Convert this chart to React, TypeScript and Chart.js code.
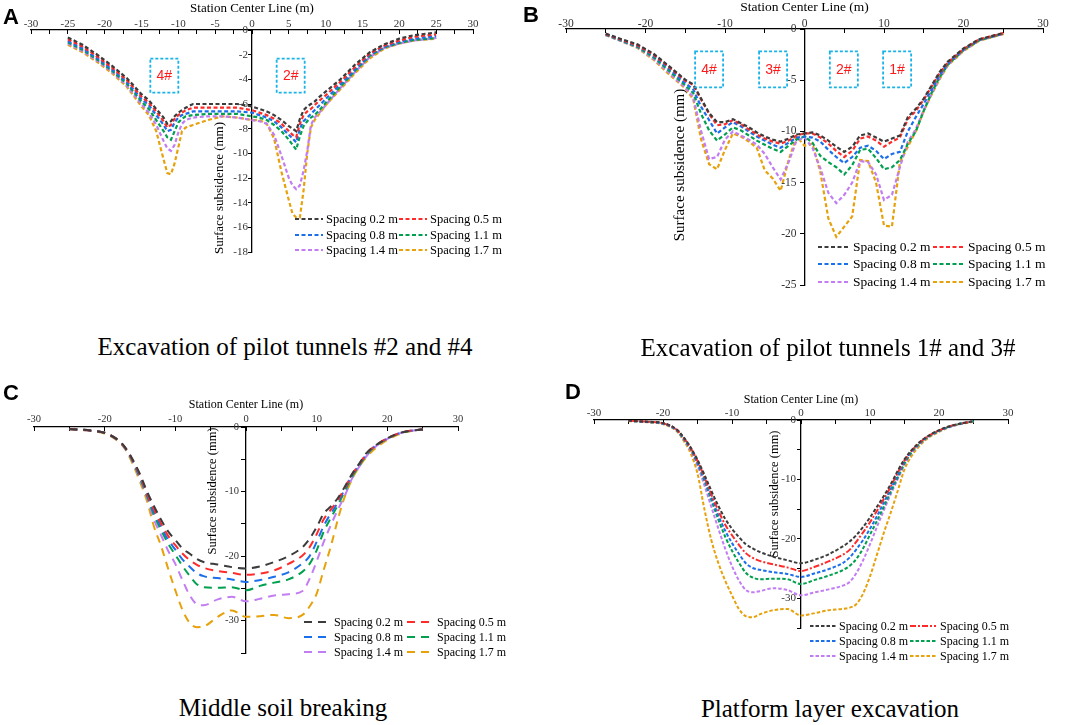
import React, { useEffect, useRef } from 'react';
import { Chart, registerables } from 'chart.js';

Chart.register(...registerables);

const SERIF = '"Liberation Serif", "Times New Roman", serif';
const SANS = '"Liberation Sans", Arial, sans-serif';

// ---------- series meta ----------
const seriesLabels = ['Spacing 0.2 m', 'Spacing 0.5 m', 'Spacing 0.8 m', 'Spacing 1.1 m', 'Spacing 1.4 m', 'Spacing 1.7 m'];
const seriesColors = ['#3c3c3c', '#ff2b2b', '#1b6fea', '#00a04f', '#c27df2', '#e6a10b'];

// ---------- Panel A: excavation of pilot tunnels #2 and #4 ----------
const xA = [-25, -23, -21, -19, -17, -15, -14, -13, -12, -11.5, -11, -10.5, -10, -9.5, -9, -8, -6, -4, -2, 0, 1, 2, 3, 4, 5, 5.5, 6, 6.5, 7, 7.5, 8, 8.5, 9, 10, 12, 14, 16, 18, 20, 22, 25];
const a02 = [-0.6, -1.2, -2.0, -2.9, -3.9, -5.2, -5.7, -6.4, -7.1, -7.6, -7.4, -7.0, -6.7, -6.5, -6.3, -6.0, -6.0, -6.0, -6.0, -6.2, -6.4, -6.6, -6.9, -7.3, -7.8, -8.0, -8.2, -7.2, -6.5, -6.2, -6.0, -5.8, -5.5, -5.0, -4.0, -2.8, -1.8, -1.15, -0.7, -0.42, -0.2];
const a05 = [-0.75, -1.35, -2.15, -3.05, -4.05, -5.4, -5.9, -6.6, -7.4, -7.9, -7.7, -7.2, -6.9, -6.7, -6.5, -6.3, -6.3, -6.3, -6.3, -6.5, -6.7, -6.9, -7.2, -7.6, -8.2, -8.5, -8.7, -7.6, -6.9, -6.6, -6.4, -6.1, -5.8, -5.3, -4.2, -3.0, -1.9, -1.25, -0.85, -0.55, -0.35];
const a08 = [-0.9, -1.5, -2.3, -3.2, -4.2, -5.6, -6.1, -6.9, -7.7, -8.2, -8.1, -7.5, -7.1, -6.9, -6.8, -6.6, -6.6, -6.6, -6.6, -6.7, -6.9, -7.1, -7.4, -7.9, -8.5, -8.8, -9.1, -8.0, -7.4, -7.1, -6.8, -6.5, -6.2, -5.6, -4.4, -3.2, -2.0, -1.35, -0.95, -0.7, -0.5];
const a11 = [-1.0, -1.6, -2.4, -3.3, -4.35, -5.8, -6.4, -7.3, -8.2, -8.7, -8.9, -8.2, -7.5, -7.2, -7.0, -6.9, -6.8, -6.8, -6.8, -7.0, -7.1, -7.3, -7.7, -8.2, -8.9, -9.3, -9.7, -8.6, -7.8, -7.4, -7.1, -6.9, -6.6, -5.9, -4.6, -3.3, -2.1, -1.4, -1.05, -0.8, -0.65];
const a14 = [-1.1, -1.7, -2.5, -3.4, -4.5, -6.0, -6.7, -7.7, -9.0, -9.6, -9.8, -9.3, -8.3, -7.6, -7.3, -7.1, -7.0, -7.0, -7.1, -7.3, -7.4, -7.6, -8.5, -10.2, -12.0, -12.6, -12.9, -12.6, -11.4, -9.8, -7.7, -7.1, -6.8, -6.1, -4.7, -3.4, -2.2, -1.45, -1.1, -0.85, -0.65];
const a17 = [-1.2, -1.8, -2.6, -3.5, -4.6, -6.2, -6.9, -8.2, -10.5, -11.6, -11.7, -10.8, -9.5, -8.2, -7.9, -7.7, -7.3, -7.0, -7.1, -7.3, -7.3, -7.6, -8.8, -11.5, -13.8, -14.9, -15.2, -15.2, -13.0, -10.0, -7.9, -7.3, -6.9, -6.1, -4.8, -3.5, -2.3, -1.5, -1.1, -0.85, -0.7];
const tunnelLabelsA = ['4#', '2#'];
const tunnelXA = [-11.9, 5.25];
const tunnelYA = -3.7;

// ---------- Panel B: excavation of pilot tunnels 1# and 3# ----------
const xB = [-25, -23, -21, -19, -17, -15, -14, -13, -12, -11, -10, -9, -8, -7, -6, -5, -4, -3, -2, -1, 0, 1, 2, 3, 4, 5, 6, 7, 8, 9, 10, 11, 12, 13, 14, 15, 16, 17, 18, 20, 22, 25];
const b02 = [-0.45, -1.0, -1.5, -2.4, -3.65, -4.95, -5.4, -6.8, -8.2, -9.1, -9.1, -8.8, -9.2, -9.6, -10.1, -10.5, -10.8, -11.0, -10.7, -10.3, -10.2, -10.1, -10.4, -10.9, -11.5, -12.0, -11.5, -10.4, -10.2, -10.6, -11.0, -10.7, -10.4, -8.6, -7.8, -6.8, -5.5, -4.2, -3.2, -1.9, -1.0, -0.4];
const b05 = [-0.5, -1.05, -1.6, -2.5, -3.75, -5.05, -5.45, -6.9, -8.3, -9.4, -9.3, -8.9, -9.3, -9.8, -10.3, -10.7, -11.0, -11.2, -10.9, -10.4, -10.2, -10.2, -10.6, -11.2, -11.9, -12.5, -11.9, -10.7, -10.5, -10.9, -11.5, -11.0, -10.6, -8.8, -8.0, -6.9, -5.6, -4.3, -3.3, -1.95, -1.0, -0.4];
const b08 = [-0.5, -1.1, -1.65, -2.6, -3.9, -5.3, -5.9, -7.6, -8.9, -10.2, -9.6, -9.1, -9.5, -10.0, -10.5, -10.9, -11.3, -11.6, -11.1, -10.6, -10.5, -10.6, -11.0, -11.8, -12.5, -13.1, -12.5, -11.6, -11.4, -11.9, -12.7, -12.2, -12.0, -10.0, -8.6, -7.3, -5.9, -4.5, -3.4, -2.0, -1.05, -0.45];
const b11 = [-0.55, -1.15, -1.75, -2.75, -4.1, -5.5, -6.25, -8.3, -9.9, -10.9, -10.3, -9.6, -9.9, -10.4, -10.9, -11.3, -11.7, -12.0, -11.4, -10.8, -10.5, -11.1, -12.4, -13.0, -13.5, -14.2, -13.3, -11.8, -11.7, -12.6, -13.7, -13.5, -12.8, -11.2, -10.0, -8.0, -6.2, -4.7, -3.5, -2.05, -1.1, -0.45];
const b14 = [-0.6, -1.2, -1.8, -2.9, -4.3, -5.7, -6.65, -10.0, -12.7, -12.5, -10.8, -10.0, -10.4, -10.8, -11.3, -12.2, -13.5, -14.7, -13.0, -10.9, -10.6, -11.6, -13.6, -16.0, -17.0, -16.2, -15.0, -12.9, -13.0, -14.2, -16.7, -16.2, -13.5, -11.0, -9.8, -7.9, -6.3, -4.8, -3.5, -2.1, -1.1, -0.5];
const b17 = [-0.6, -1.2, -1.85, -3.0, -4.45, -5.8, -6.85, -10.8, -13.2, -13.7, -11.8, -10.2, -10.5, -11.0, -11.6, -13.8, -14.6, -15.8, -12.8, -10.5, -11.4, -11.2, -14.0, -18.5, -20.3, -19.3, -18.3, -12.8, -12.9, -15.0, -19.2, -19.3, -13.0, -11.5, -10.0, -8.0, -6.4, -4.9, -3.6, -2.15, -1.15, -0.5];
const tunnelLabelsB = ['4#', '3#', '2#', '1#'];
const tunnelXB = [-12.0, -3.95, 4.95, 11.65];
const tunnelYB = -3.95;

// ---------- Panel C: middle soil breaking ----------
const xC = [-25, -22, -20, -18, -17, -16, -15, -14, -13, -12, -11, -10, -9, -8, -7, -6, -4, -2, 0, 2, 4, 6, 8, 9, 10, 11, 12, 13, 14, 15, 16, 17, 18, 20, 22, 25];
const c02 = [-0.3, -0.55, -0.9, -2.1, -3.3, -5.1, -7.3, -10.0, -12.3, -14.4, -16.2, -17.5, -18.8, -19.6, -20.4, -20.9, -21.3, -21.7, -21.9, -21.6, -20.9, -20.0, -18.6, -17.3, -15.5, -13.4, -12.3, -11.0, -9.2, -7.3, -5.7, -4.1, -3.1, -1.75, -0.85, -0.35];
const c05 = [-0.3, -0.55, -0.9, -2.1, -3.35, -5.2, -7.5, -10.3, -12.8, -15.0, -16.9, -18.3, -19.6, -20.6, -21.3, -21.8, -22.3, -22.6, -22.9, -22.7, -22.2, -21.2, -19.9, -18.6, -16.6, -14.3, -12.8, -11.3, -9.4, -7.4, -5.8, -4.2, -3.15, -1.75, -0.85, -0.35];
const c08 = [-0.3, -0.55, -0.9, -2.15, -3.4, -5.3, -7.7, -10.5, -13.2, -15.5, -17.5, -19.0, -20.5, -21.6, -22.6, -23.1, -23.4, -23.6, -24.0, -23.7, -23.2, -22.5, -21.1, -20.0, -17.8, -15.3, -13.4, -11.7, -9.6, -7.5, -5.9, -4.3, -3.2, -1.8, -0.85, -0.35];
const c11 = [-0.3, -0.55, -0.9, -2.15, -3.45, -5.4, -7.9, -10.7, -13.7, -16.0, -18.1, -19.8, -21.5, -23.0, -24.3, -24.8, -24.9, -24.8, -25.3, -24.6, -24.1, -23.6, -22.4, -21.2, -19.1, -16.2, -14.1, -12.1, -9.9, -7.7, -6.0, -4.4, -3.25, -1.8, -0.9, -0.35];
const c14 = [-0.3, -0.6, -0.95, -2.2, -3.5, -5.5, -8.1, -10.9, -14.4, -16.8, -19.2, -21.2, -23.7, -26.0, -27.4, -27.6, -26.7, -26.3, -27.0, -26.6, -26.1, -25.9, -25.4, -23.5, -20.8, -17.8, -15.2, -12.8, -10.6, -8.0, -6.2, -4.6, -3.35, -1.85, -0.9, -0.35];
const c17 = [-0.35, -0.6, -1.0, -2.3, -3.6, -5.8, -8.5, -11.5, -15.5, -18.5, -22.0, -25.3, -28.3, -30.3, -31.0, -30.9, -29.4, -28.4, -29.4, -29.3, -29.1, -29.6, -29.1, -27.8, -25.8, -22.1, -18.5, -14.3, -10.7, -8.1, -6.2, -4.7, -3.6, -2.0, -1.0, -0.35];

// ---------- Panel D: platform layer excavation ----------
const xD = [-25, -22, -20, -18, -17, -16, -15, -14, -13, -12, -11, -10, -9, -8, -7, -6, -4, -2, 0, 2, 4, 6, 7, 8, 9, 10, 11, 12, 13, 14, 15, 16, 17, 18, 20, 22, 25];
const d02 = [-0.1, -0.3, -0.5, -1.6, -2.9, -4.6, -6.7, -9.2, -11.9, -14.4, -16.6, -18.3, -19.7, -20.9, -21.6, -22.2, -23.0, -23.6, -24.1, -23.5, -22.6, -21.3, -20.5, -19.4, -18.0, -16.4, -14.6, -12.8, -10.8, -8.6, -6.6, -5.1, -3.9, -3.0, -1.7, -0.9, -0.2];
const d05 = [-0.1, -0.3, -0.55, -1.65, -3.0, -4.7, -6.9, -9.6, -12.5, -15.2, -17.6, -19.4, -21.0, -22.4, -23.2, -23.7, -24.3, -24.8, -25.4, -24.7, -23.8, -22.7, -21.9, -20.5, -18.9, -17.2, -15.3, -13.3, -11.2, -8.9, -6.8, -5.2, -4.0, -3.05, -1.75, -0.9, -0.2];
const d08 = [-0.15, -0.35, -0.6, -1.7, -3.1, -4.8, -7.1, -9.9, -13.0, -16.0, -18.6, -20.7, -22.5, -24.1, -24.9, -25.2, -25.6, -25.9, -26.4, -25.8, -25.1, -24.1, -23.2, -21.8, -20.2, -18.3, -16.2, -13.9, -11.6, -9.3, -7.0, -5.3, -4.1, -3.1, -1.8, -0.95, -0.2];
const d11 = [-0.15, -0.35, -0.6, -1.75, -3.2, -4.9, -7.3, -10.2, -13.5, -16.7, -19.6, -22.0, -24.0, -25.7, -26.5, -26.8, -26.7, -26.8, -27.6, -26.9, -26.2, -25.3, -24.6, -23.4, -21.6, -19.3, -17.0, -14.6, -12.1, -9.7, -7.3, -5.5, -4.2, -3.2, -1.85, -0.95, -0.2];
const d14 = [-0.15, -0.35, -0.6, -1.8, -3.3, -5.1, -7.7, -11.0, -14.6, -18.2, -21.6, -24.6, -27.0, -28.6, -29.0, -28.8, -28.3, -28.6, -29.5, -29.0, -28.5, -27.9, -27.3, -25.8, -23.6, -20.9, -18.0, -15.2, -12.5, -10.0, -7.5, -5.6, -4.3, -3.25, -1.9, -1.0, -0.2];
const d17 = [-0.2, -0.4, -0.7, -1.9, -3.5, -5.6, -9.0, -15.0, -20.2, -24.0, -27.0, -29.5, -31.8, -33.0, -33.2, -32.7, -32.0, -31.8, -32.9, -32.5, -32.0, -31.8, -31.6, -31.0, -29.2, -26.3, -22.7, -19.0, -15.6, -12.0, -8.3, -6.1, -4.6, -3.4, -2.0, -1.0, -0.3];

// ---------- layout / style (not data) ----------
interface Rect { left: number; top: number; width: number; height: number }
interface Panel {
  id: string;
  canvas: Rect;
  area: { left: number; right: number; top: number; bottom: number };
  xs: number[];
  ys: number[][];
  yMin: number;
  yStep: number;
  yLabelEvery: number;
  xStep: number;
  xLabelEvery: number;
  dash: number[][];
  lineWidth: number;
  smooth: boolean;
  tickSize: number;
  xTitleSize: number;
  xTitleY: number;
  xTickOffset: number;
  yTickLen: number;
  yTickPad: number;
  yTitle: { x: number; y: number; size: number };
  legend: { lineX: number[]; lineLen: number; textX: number[]; rows: number[]; size: number };
  boxes?: { labels: string[]; xs: number[]; y: number; w: number; h: number };
}

const dashShort = [4, 2.5];
const dashLong = [8, 6];
const dashD = [3.5, 2];
const dashDot = [6, 2, 2, 2];

const panels: Panel[] = [
  {
    id: 'A',
    canvas: { left: 0, top: 0, width: 530, height: 300 },
    area: { left: 31, right: 473, top: 30, bottom: 252 },
    xs: xA, ys: [a02, a05, a08, a11, a14, a17],
    yMin: -18, yStep: 2, yLabelEvery: 2, xStep: 2.5, xLabelEvery: 5,
    dash: [dashShort, dashShort, dashShort, dashShort, dashShort, dashShort],
    lineWidth: 2.2, smooth: false,
    tickSize: 11, xTitleSize: 13, xTitleY: 9, xTickOffset: 6, yTickLen: 3, yTickPad: 1,
    yTitle: { x: 220, y: 188, size: 13 },
    legend: { lineX: [295, 399], lineLen: 28, textX: [326, 430], rows: [219, 235, 250], size: 12.5 },
    boxes: { labels: tunnelLabelsA, xs: tunnelXA, y: tunnelYA, w: 28, h: 34 },
  },
  {
    id: 'B',
    canvas: { left: 530, top: 0, width: 535, height: 310 },
    area: { left: 566, right: 1043, top: 29, bottom: 285 },
    xs: xB, ys: [b02, b05, b08, b11, b14, b17],
    yMin: -25, yStep: 5, yLabelEvery: 5, xStep: 5, xLabelEvery: 10,
    dash: [dashShort, dashShort, dashShort, dashShort, dashShort, dashShort],
    lineWidth: 2.2, smooth: false,
    tickSize: 11.5, xTitleSize: 13.5, xTitleY: 7, xTickOffset: 5, yTickLen: 4, yTickPad: 4,
    yTitle: { x: 680, y: 165, size: 15 },
    legend: { lineX: [818, 933], lineLen: 30, textX: [853, 968], rows: [247, 264, 282], size: 13.5 },
    boxes: { labels: tunnelLabelsB, xs: tunnelXB, y: tunnelYB, w: 28, h: 36 },
  },
  {
    id: 'C',
    canvas: { left: 0, top: 360, width: 530, height: 310 },
    area: { left: 34, right: 458, top: 427, bottom: 653 },
    xs: xC, ys: [c02, c05, c08, c11, c14, c17],
    yMin: -35, yStep: 5, yLabelEvery: 10, xStep: 5, xLabelEvery: 10,
    dash: [dashLong, dashLong, dashLong, dashLong, dashLong, dashLong],
    lineWidth: 2, smooth: true,
    tickSize: 10.5, xTitleSize: 12, xTitleY: 405, xTickOffset: 8, yTickLen: 4, yTickPad: 3,
    yTitle: { x: 213, y: 491, size: 12.5 },
    legend: { lineX: [304, 407], lineLen: 25, textX: [334, 437], rows: [622, 637, 652], size: 12 },
  },
  {
    id: 'D',
    canvas: { left: 530, top: 360, width: 535, height: 310 },
    area: { left: 594, right: 1008, top: 420, bottom: 628 },
    xs: xD, ys: [d02, d05, d08, d11, d14, d17],
    yMin: -35, yStep: 5, yLabelEvery: 10, xStep: 5, xLabelEvery: 10,
    dash: [dashD, dashDot, dashD, dashD, dashD, dashD],
    lineWidth: 2, smooth: true,
    tickSize: 11, xTitleSize: 12, xTitleY: 400, xTickOffset: 7.3, yTickLen: 3, yTickPad: 2,
    yTitle: { x: 775, y: 494, size: 12.5 },
    legend: { lineX: [810, 910], lineLen: 26, textX: [839, 940], rows: [626, 641, 656], size: 12 },
  },
];

const captions = [
  { text: 'Excavation of pilot tunnels #2 and #4', cx: 285, baseline: 355 },
  { text: 'Excavation of pilot tunnels 1# and 3#', cx: 828, baseline: 356 },
  { text: 'Middle soil breaking', cx: 283, baseline: 716 },
  { text: 'Platform layer excavation', cx: 830, baseline: 717 },
];
const letters = [
  { text: 'A', left: 3, baseline: 25 },
  { text: 'B', left: 523, baseline: 23 },
  { text: 'C', left: 3, baseline: 401 },
  { text: 'D', left: 565, baseline: 400 },
];

function overlayPlugin(p: Panel) {
  return {
    id: 'overlay' + p.id,
    afterDraw(chart: any) {
      const ctx: CanvasRenderingContext2D = chart.ctx;
      const ox = p.canvas.left;
      const oy = p.canvas.top;
      const xs = chart.scales.x;
      const ys = chart.scales.y;
      ctx.save();
      // tunnel boxes
      if (p.boxes) {
        const b = p.boxes;
        b.labels.forEach((lab, i) => {
          const cx = xs.getPixelForValue(b.xs[i]);
          const cy = ys.getPixelForValue(b.y);
          ctx.setLineDash([3, 2]);
          ctx.strokeStyle = '#1ab3e8';
          ctx.lineWidth = 1.8;
          ctx.strokeRect(cx - b.w / 2, cy - b.h / 2, b.w, b.h);
          ctx.setLineDash([]);
          ctx.fillStyle = '#ff1a1a';
          ctx.font = `14px ${SANS}`;
          ctx.textAlign = 'center';
          ctx.textBaseline = 'middle';
          ctx.fillText(lab, cx, cy + 0.5);
        });
      }
      // y-axis title
      ctx.save();
      ctx.translate(p.yTitle.x - ox, p.yTitle.y - oy);
      ctx.rotate(-Math.PI / 2);
      ctx.fillStyle = '#000';
      ctx.font = `${p.yTitle.size}px ${SERIF}`;
      ctx.textAlign = 'center';
      ctx.textBaseline = 'middle';
      ctx.fillText('Surface subsidence (mm)', 0, 0);
      ctx.restore();
      // legend
      const L = p.legend;
      chart.data.datasets.forEach((ds: any, i: number) => {
        const col = i % 2;
        const row = Math.floor(i / 2);
        const y = L.rows[row] - oy;
        const x0 = L.lineX[col] - ox;
        ctx.setLineDash(ds.borderDash || []);
        ctx.strokeStyle = ds.borderColor;
        ctx.lineWidth = ds.borderWidth;
        ctx.beginPath();
        ctx.moveTo(x0, y);
        ctx.lineTo(x0 + L.lineLen, y);
        ctx.stroke();
        ctx.setLineDash([]);
        ctx.fillStyle = '#000';
        ctx.font = `${L.size}px ${SERIF}`;
        ctx.textAlign = 'left';
        ctx.textBaseline = 'middle';
        ctx.fillText(ds.label, L.textX[col] - ox, y + 0.5);
      });
      ctx.restore();
    },
  };
}

function makeChart(canvas: HTMLCanvasElement, p: Panel) {
  const localTop = p.area.top - p.canvas.top;
  const padTop = Math.max(0, localTop - 30);
  const xAxisH = localTop - padTop;
  const titleLh = p.xTitleSize * 1.2;
  const titlePad = p.xTitleY - p.canvas.top - padTop - titleLh / 2;
  const xTickLen = -4;
  const xTickPad = p.xTickOffset - (p.tickSize * 1.2) / 2 - xTickLen;
  const isMult = (v: number, m: number) => Math.abs(Math.round(v / m) * m - v) < 1e-6;

  return new Chart(canvas, {
    type: 'line',
    data: {
      datasets: p.ys.map((ys, i) => ({
        label: seriesLabels[i],
        data: p.xs.map((x, j) => ({ x, y: ys[j] })),
        borderColor: seriesColors[i],
        backgroundColor: seriesColors[i],
        borderWidth: p.lineWidth,
        borderDash: p.dash[i],
        borderCapStyle: 'butt',
        pointRadius: 0,
        pointHoverRadius: 0,
        fill: false,
        tension: p.smooth ? 0.4 : 0,
        cubicInterpolationMode: p.smooth ? 'monotone' : 'default',
      })),
    },
    options: {
      responsive: false,
      animation: false,
      events: [],
      layout: {
        padding: {
          left: p.area.left - p.canvas.left,
          right: p.canvas.left + p.canvas.width - p.area.right,
          top: padTop,
          bottom: p.canvas.top + p.canvas.height - p.area.bottom,
        },
      },
      plugins: {
        legend: { display: false },
        tooltip: { enabled: false },
        title: { display: false },
      },
      scales: {
        x: {
          type: 'linear',
          position: 'top',
          min: -30,
          max: 30,
          afterFit: (s: any) => { s.height = xAxisH; },
          ticks: {
            stepSize: p.xStep,
            autoSkip: false,
            maxRotation: 0,
            padding: xTickPad,
            color: '#333',
            font: { family: SERIF, size: p.tickSize },
            callback: (v: any) => (isMult(Number(v), p.xLabelEvery) ? String(v) : ''),
          },
          grid: { drawOnChartArea: false, drawTicks: true, tickLength: xTickLen, color: '#000', lineWidth: 1 },
          border: { display: true, color: '#000', width: 1.3 },
          title: {
            display: true,
            text: 'Station Center Line (m)',
            color: '#000',
            font: { family: SERIF, size: p.xTitleSize },
            padding: { top: titlePad, bottom: 0 },
          },
        },
        y: {
          type: 'linear',
          position: 'center',
          min: p.yMin,
          max: 0,
          ticks: {
            stepSize: p.yStep,
            autoSkip: false,
            padding: p.yTickPad,
            color: '#333',
            font: { family: SERIF, size: p.tickSize },
            callback: (v: any) => (isMult(Number(v), p.yLabelEvery) ? String(v) : ''),
          },
          grid: { drawOnChartArea: false, drawTicks: true, tickLength: p.yTickLen, color: '#000', lineWidth: 1 },
          border: { display: true, color: '#000', width: 1.3 },
        },
      },
    } as any,
    plugins: [overlayPlugin(p)],
  });
}

export default function App() {
  const refs = useRef<(HTMLCanvasElement | null)[]>([]);

  useEffect(() => {
    const charts: Chart[] = [];
    panels.forEach((p, i) => {
      const c = refs.current[i];
      if (c) charts.push(makeChart(c, p));
    });
    return () => { charts.forEach((c) => c.destroy()); };
  }, []);

  return (
    <div style={{ position: 'absolute', left: 0, top: 0, width: 1065, height: 725, background: '#fff', overflow: 'hidden' }}>
      {panels.map((p, i) => (
        <canvas
          key={p.id}
          ref={(el) => { refs.current[i] = el; }}
          width={p.canvas.width}
          height={p.canvas.height}
          style={{ position: 'absolute', left: p.canvas.left, top: p.canvas.top, width: p.canvas.width, height: p.canvas.height }}
        />
      ))}
      {captions.map((c) => (
        <div
          key={c.text}
          style={{
            position: 'absolute', left: c.cx - 260, width: 520, top: c.baseline - 21,
            textAlign: 'center', fontFamily: SERIF, fontSize: 25, lineHeight: '25px', color: '#000', whiteSpace: 'nowrap',
          }}
        >
          {c.text}
        </div>
      ))}
      {letters.map((l) => (
        <div
          key={l.text}
          style={{
            position: 'absolute', left: l.left, top: l.baseline - 18.6,
            fontFamily: SANS, fontWeight: 'bold', fontSize: 22, lineHeight: '22px', color: '#000',
          }}
        >
          {l.text}
        </div>
      ))}
    </div>
  );
}
